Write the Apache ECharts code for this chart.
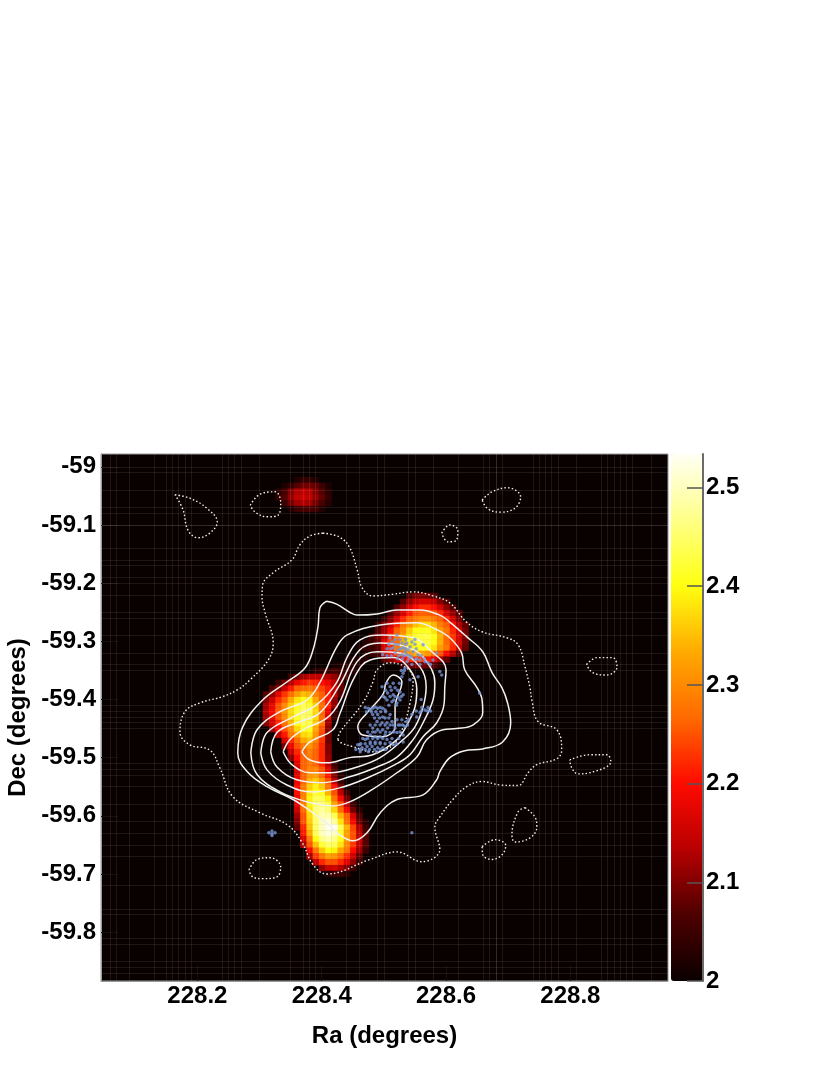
<!DOCTYPE html>
<html>
<head>
<meta charset="utf-8">
<title>Ra / Dec map</title>
<script src="https://cdn.jsdelivr.net/npm/echarts@6/dist/echarts.min.js"></script>
<style>
html, body { margin: 0; padding: 0; background: #fff; }
#container_map { width: 830px; height: 1075px; }
</style>
</head>
<body>
<div id="container_map"></div>
<script>
// Axis ticks
var raTicks = [228.2, 228.4, 228.6, 228.8];
var decTicks = [-59, -59.1, -59.2, -59.3, -59.4, -59.5, -59.6, -59.7, -59.8];
var barTicks = [2, 2.1, 2.2, 2.3, 2.4, 2.5];

// Excess map, read row by row: [dec, first ra, [value above 2, in hundredths, ...]]
var heatRows = [
    [-59.02, 228.36, [2, 4, 4, 2]],
    [-59.03, 228.34, [2, 4, 7, 9, 9, 8, 5, 2]],
    [-59.04, 228.33, [3, 6, 10, 13, 14, 13, 10, 7, 3]],
    [-59.05, 228.33, [4, 7, 11, 14, 15, 14, 11, 8, 4]],
    [-59.06, 228.34, [5, 9, 12, 13, 12, 9, 6, 3]],
    [-59.07, 228.35, [2, 5, 6, 6, 5, 2]],
    [-59.22, 228.54, [7, 9, 10, 9, 7]],
    [-59.23, 228.53, [7, 11, 14, 16, 16, 14, 10, 7]],
    [-59.24, 228.52, [7, 11, 16, 20, 22, 22, 20, 16, 11, 7]],
    [-59.25, 228.51, [7, 11, 16, 21, 25, 26, 26, 25, 22, 16, 11, 7]],
    [-59.26, 228.50, [5, 10, 16, 22, 26, 28, 30, 30, 28, 26, 22, 15, 9]],
    [-59.27, 228.49, [5, 10, 15, 22, 28, 31, 35, 37, 37, 34, 29, 26, 20, 13, 8]],
    [-59.28, 228.49, [7, 12, 19, 26, 30, 36, 40, 41, 41, 38, 32, 28, 22, 15, 9]],
    [-59.29, 228.48, [5, 9, 14, 22, 28, 33, 38, 42, 43, 43, 40, 34, 27, 23, 16, 10]],
    [-59.30, 228.47, [3, 5, 8, 17, 24, 27, 34, 39, 42, 43, 43, 40, 34, 27, 23, 16, 9]],
    [-59.31, 228.46, [2, 4, 5, 7, 16, 22, 28, 32, 37, 40, 41, 41, 38, 32, 28, 22, 14, 8]],
    [-59.32, 228.47, [3, 4, 6, 14, 19, 24, 27, 31, 33, 33, 31, 27, 25, 19, 13, 7]],
    [-59.33, 228.44, [1, 2, 3, 3, 0, 0, 7, 10, 14, 19, 22, 23, 23, 21, 17, 12, 8]],
    [-59.34, 228.42, [1, 2, 3, 3, 2, 0, 0, 0, 0, 0, 0, 5, 8, 9, 9, 8, 7, 3]],
    [-59.35, 228.39, [3, 4, 5, 6, 5, 4, 3]],
    [-59.36, 228.35, [5, 9, 12, 14, 14, 14, 13, 11, 8, 5]],
    [-59.37, 228.33, [5, 9, 13, 18, 21, 23, 22, 20, 18, 14, 8]],
    [-59.38, 228.32, [7, 10, 15, 21, 26, 27, 28, 26, 24, 21, 15, 8]],
    [-59.39, 228.31, [7, 11, 17, 23, 27, 32, 35, 34, 29, 26, 21, 14, 7]],
    [-59.40, 228.31, [10, 15, 22, 26, 33, 38, 40, 39, 33, 26, 21, 11]],
    [-59.41, 228.31, [12, 18, 25, 30, 36, 41, 44, 42, 36, 27, 21, 11]],
    [-59.42, 228.31, [13, 19, 26, 31, 37, 42, 45, 44, 37, 27, 18, 5]],
    [-59.43, 228.31, [12, 18, 25, 30, 37, 42, 45, 44, 37, 27, 16, 4]],
    [-59.44, 228.31, [10, 16, 22, 27, 34, 41, 44, 43, 36, 28, 12]],
    [-59.45, 228.32, [12, 19, 25, 30, 37, 41, 41, 33, 25, 10]],
    [-59.46, 228.33, [14, 21, 28, 32, 37, 38, 31, 24, 9]],
    [-59.47, 228.34, [16, 22, 27, 33, 35, 29, 23, 9]],
    [-59.48, 228.34, [9, 18, 25, 28, 31, 27, 22, 10]],
    [-59.49, 228.35, [14, 22, 26, 29, 26, 22, 10]],
    [-59.50, 228.35, [10, 20, 26, 28, 26, 22, 11]],
    [-59.51, 228.36, [17, 26, 28, 26, 22, 13, 5]],
    [-59.52, 228.36, [16, 26, 29, 29, 25, 17, 7]],
    [-59.53, 228.36, [17, 26, 31, 32, 27, 21, 10, 3]],
    [-59.54, 228.36, [18, 26, 34, 36, 32, 25, 14, 5]],
    [-59.55, 228.36, [19, 28, 36, 39, 36, 28, 20, 9]],
    [-59.56, 228.36, [20, 29, 38, 42, 41, 34, 25, 14, 5]],
    [-59.57, 228.36, [18, 29, 39, 44, 44, 39, 28, 20, 9]],
    [-59.58, 228.36, [17, 28, 39, 45, 46, 43, 33, 25, 14, 5]],
    [-59.59, 228.36, [15, 27, 38, 46, 48, 46, 37, 27, 19, 9, 3]],
    [-59.60, 228.36, [12, 25, 37, 45, 49, 49, 44, 34, 26, 16, 7]],
    [-59.61, 228.36, [10, 25, 36, 45, 50, 52, 48, 38, 27, 19, 9, 3]],
    [-59.62, 228.36, [8, 22, 35, 45, 50, 53, 53, 44, 34, 24, 13, 5]],
    [-59.63, 228.37, [21, 33, 44, 50, 52, 50, 42, 32, 25, 14, 7]],
    [-59.64, 228.37, [16, 28, 40, 47, 49, 47, 41, 32, 25, 15, 7]],
    [-59.65, 228.37, [12, 25, 35, 42, 45, 44, 38, 30, 23, 14, 7]],
    [-59.66, 228.38, [19, 28, 36, 40, 39, 33, 28, 20, 12, 5]],
    [-59.67, 228.38, [12, 23, 28, 32, 31, 27, 22, 15, 8]],
    [-59.68, 228.39, [14, 22, 25, 25, 22, 17, 11, 5]],
    [-59.69, 228.40, [11, 15, 16, 13, 10, 5]],
    [-59.70, 228.41, [3, 5, 5, 3]]
];

// Contours, [ra, dec]
var dottedOuter = [[228.402,-59.114],[228.429,-59.121],[228.445,-59.139],[228.457,-59.177],[228.465,-59.208],[228.482,-59.222],[228.515,-59.219],[228.547,-59.215],[228.579,-59.222],[228.606,-59.234],[228.633,-59.267],[228.659,-59.284],[228.698,-59.294],[228.716,-59.306],[228.727,-59.344],[228.735,-59.380],[228.738,-59.401],[228.748,-59.438],[228.778,-59.452],[228.786,-59.487],[228.778,-59.502],[228.746,-59.512],[228.732,-59.526],[228.716,-59.548],[228.687,-59.547],[228.658,-59.541],[228.633,-59.550],[228.611,-59.572],[228.590,-59.602],[228.582,-59.619],[228.590,-59.658],[228.561,-59.679],[228.521,-59.662],[228.478,-59.675],[228.408,-59.700],[228.386,-59.684],[228.368,-59.645],[228.344,-59.615],[228.301,-59.595],[228.257,-59.567],[228.236,-59.517],[228.220,-59.487],[228.188,-59.478],[228.172,-59.456],[228.180,-59.421],[228.204,-59.406],[228.241,-59.395],[228.265,-59.383],[228.285,-59.366],[228.314,-59.332],[228.322,-59.303],[228.309,-59.251],[228.304,-59.224],[228.305,-59.203],[228.322,-59.182],[228.352,-59.160],[228.365,-59.134],[228.381,-59.119]];
var dottedInner = [[228.426,-59.469],[228.429,-59.457],[228.466,-59.406],[228.482,-59.371],[228.489,-59.349],[228.510,-59.337],[228.537,-59.346],[228.547,-59.366],[228.542,-59.406],[228.531,-59.447],[228.515,-59.478],[228.482,-59.490],[228.450,-59.481],[228.432,-59.475]];
var dottedA = [[228.164,-59.048],[228.188,-59.054],[228.215,-59.071],[228.232,-59.095],[228.220,-59.114],[228.201,-59.122],[228.185,-59.109],[228.177,-59.074]];
var dottedB = [[228.285,-59.066],[228.301,-59.047],[228.325,-59.043],[228.334,-59.062],[228.330,-59.083],[228.312,-59.086],[228.293,-59.078]];
var dottedC = [[228.593,-59.114],[228.606,-59.100],[228.619,-59.109],[228.617,-59.126],[228.603,-59.129]];
var dottedD = [[228.658,-59.057],[228.674,-59.043],[228.699,-59.036],[228.720,-59.052],[228.711,-59.071],[228.687,-59.078],[228.667,-59.072]];
var dottedE = [[228.826,-59.340],[228.843,-59.328],[228.868,-59.328],[228.875,-59.344],[228.859,-59.358],[228.836,-59.354]];
var dottedF = [[228.799,-59.504],[228.831,-59.495],[228.859,-59.495],[228.865,-59.507],[228.831,-59.526],[228.812,-59.528],[228.802,-59.517]];
var dottedG = [[228.727,-59.586],[228.743,-59.602],[228.746,-59.619],[228.735,-59.638],[228.711,-59.645],[228.706,-59.633],[228.716,-59.593]];
var dottedH = [[228.658,-59.653],[228.679,-59.641],[228.696,-59.651],[228.690,-59.667],[228.674,-59.675],[228.659,-59.667]];
var dottedI = [[228.283,-59.693],[228.296,-59.675],[228.317,-59.672],[228.334,-59.688],[228.328,-59.705],[228.305,-59.708],[228.289,-59.705]];

var solid1 = [[228.408,-59.231],[228.424,-59.236],[228.445,-59.250],[228.457,-59.255],[228.489,-59.253],[228.521,-59.246],[228.558,-59.246],[228.590,-59.255],[228.606,-59.267],[228.633,-59.292],[228.659,-59.318],[228.674,-59.354],[228.690,-59.380],[228.699,-59.406],[228.704,-59.440],[228.691,-59.473],[228.659,-59.485],[228.630,-59.488],[228.606,-59.500],[228.590,-59.524],[228.585,-59.538],[228.563,-59.564],[228.521,-59.572],[228.494,-59.595],[228.473,-59.629],[228.450,-59.643],[228.429,-59.633],[228.413,-59.617],[228.386,-59.595],[228.354,-59.572],[228.312,-59.550],[228.280,-59.524],[228.265,-59.492],[228.273,-59.447],[228.305,-59.401],[228.344,-59.370],[228.373,-59.346],[228.386,-59.315],[228.394,-59.275],[228.397,-59.243]];
var solid2 = [[228.286,-59.492],[228.296,-59.529],[228.333,-59.559],[228.376,-59.576],[228.418,-59.583],[228.445,-59.576],[228.481,-59.555],[228.521,-59.526],[228.553,-59.499],[228.569,-59.469],[228.595,-59.452],[228.617,-59.450],[228.643,-59.444],[228.659,-59.423],[228.658,-59.401],[228.650,-59.380],[228.630,-59.349],[228.625,-59.320],[228.606,-59.294],[228.585,-59.280],[228.553,-59.268],[228.494,-59.272],[228.441,-59.289],[228.424,-59.310],[228.397,-59.371],[228.376,-59.401],[228.333,-59.421],[228.296,-59.452]];
var solid3 = [[228.302,-59.492],[228.312,-59.521],[228.344,-59.547],[228.386,-59.559],[228.429,-59.552],[228.473,-59.535],[228.518,-59.512],[228.542,-59.495],[228.563,-59.464],[228.585,-59.440],[228.597,-59.406],[228.598,-59.378],[228.600,-59.349],[228.574,-59.315],[228.547,-59.294],[228.498,-59.289],[228.461,-59.298],[228.441,-59.327],[228.424,-59.371],[228.392,-59.409],[228.354,-59.430],[228.312,-59.457]];
var solid4 = [[228.318,-59.490],[228.328,-59.516],[228.360,-59.538],[228.402,-59.543],[228.445,-59.533],[228.489,-59.516],[228.521,-59.499],[228.547,-59.469],[228.563,-59.440],[228.579,-59.401],[228.582,-59.371],[228.563,-59.327],[228.537,-59.310],[228.494,-59.303],[228.461,-59.315],[228.429,-59.375],[228.397,-59.423],[228.360,-59.440],[228.328,-59.457]];
var solid5 = [[228.338,-59.490],[228.352,-59.512],[228.381,-59.526],[228.413,-59.526],[228.457,-59.516],[228.494,-59.500],[228.531,-59.469],[228.550,-59.447],[228.563,-59.413],[228.568,-59.378],[228.558,-59.344],[228.526,-59.320],[228.489,-59.318],[228.457,-59.335],[228.429,-59.404],[228.408,-59.432],[228.370,-59.452],[228.349,-59.469]];
var solid6 = [[228.368,-59.490],[228.381,-59.504],[228.408,-59.509],[228.445,-59.500],[228.482,-59.495],[228.521,-59.469],[228.539,-59.440],[228.550,-59.413],[228.553,-59.383],[228.542,-59.349],[228.515,-59.328],[228.478,-59.332],[228.453,-59.361],[228.429,-59.425],[228.418,-59.452],[228.381,-59.473]];
var solid7 = [[228.502,-59.375],[228.515,-59.358],[228.529,-59.370],[228.518,-59.413],[228.518,-59.447],[228.498,-59.464],[228.466,-59.461],[228.458,-59.447],[228.473,-59.423],[228.498,-59.392]];

// Blue points, [ra, dec]
var bluePoints = [
    [228.521,-59.289],[228.510,-59.294],[228.529,-59.303],[228.537,-59.303],[228.545,-59.301],[228.515,-59.311],[228.523,-59.315],[228.531,-59.311],
    [228.539,-59.315],[228.547,-59.318],[228.555,-59.323],[228.518,-59.320],[228.529,-59.323],[228.537,-59.323],[228.545,-59.327],[228.498,-59.323],
    [228.558,-59.332],[228.566,-59.335],[228.571,-59.337],[228.585,-59.320],[228.563,-59.306],[228.537,-59.335],[228.534,-59.346],[228.529,-59.361],
    [228.555,-59.361],[228.590,-59.352],[228.593,-59.358],[228.542,-59.366],[228.513,-59.301],[228.523,-59.306],[228.534,-59.318],[228.542,-59.310],
    [228.550,-59.332],[228.579,-59.332],
    [228.518,-59.297],[228.526,-59.297],[228.535,-59.297],[228.550,-59.297],[228.508,-59.305],[228.518,-59.305],[228.535,-59.305],[228.550,-59.305],
    [228.505,-59.313],[228.511,-59.313],[228.527,-59.313],[228.535,-59.313],[228.552,-59.313],[228.505,-59.325],[228.512,-59.325],[228.524,-59.325],
    [228.533,-59.325],[228.541,-59.325],[228.560,-59.325],[228.522,-59.330],[228.530,-59.330],[228.540,-59.330],[228.553,-59.330],[228.565,-59.330],
    [228.545,-59.340],[228.558,-59.340],[228.575,-59.340],[228.533,-59.350],[228.528,-59.350],[228.531,-59.355],
    [228.510,-59.378],[228.518,-59.380],[228.526,-59.387],[228.506,-59.389],[228.515,-59.392],[228.523,-59.397],[228.531,-59.392],[228.502,-59.397],
    [228.513,-59.404],[228.521,-59.406],[228.497,-59.378],[228.503,-59.384],[228.512,-59.384],[228.522,-59.384],[228.499,-59.395],[228.510,-59.395],
    [228.518,-59.395],[228.528,-59.395],[228.505,-59.401],[228.516,-59.401],[228.526,-59.401],[228.505,-59.372],[228.515,-59.372],[228.525,-59.372],
    [228.508,-59.410],[228.520,-59.410],
    [228.486,-59.413],[228.478,-59.418],[228.470,-59.414],[228.494,-59.414],[228.502,-59.418],[228.482,-59.426],[228.490,-59.426],[228.498,-59.430],
    [228.510,-59.426],[228.489,-59.438],[228.497,-59.440],[228.505,-59.440],[228.513,-59.438],[228.482,-59.449],[228.490,-59.452],[228.498,-59.452],
    [228.506,-59.449],[228.521,-59.435],[228.529,-59.435],[228.537,-59.438],[228.526,-59.444],[228.534,-59.447],[228.518,-59.449],[228.478,-59.461],
    [228.486,-59.464],[228.494,-59.464],[228.502,-59.461],[228.510,-59.457],[228.521,-59.457],[228.470,-59.469],[228.478,-59.473],[228.486,-59.473],
    [228.494,-59.474],[228.505,-59.469],[228.458,-59.478],[228.465,-59.483],[228.473,-59.481],[228.481,-59.481],[228.490,-59.483],[228.498,-59.483],
    [228.461,-59.478],[228.510,-59.474],[228.515,-59.478],[228.531,-59.461],[228.531,-59.473],
    [228.475,-59.415],[228.482,-59.415],[228.490,-59.415],[228.498,-59.415],[228.472,-59.421],[228.480,-59.421],[228.487,-59.421],[228.495,-59.421],[228.503,-59.421],
    [228.485,-59.432],[228.493,-59.432],[228.502,-59.432],[228.508,-59.432],[228.478,-59.444],[228.486,-59.444],[228.494,-59.444],[228.502,-59.444],[228.510,-59.444],
    [228.515,-59.444],[228.523,-59.444],[228.530,-59.444],[228.538,-59.444],[228.474,-59.456],[228.482,-59.456],[228.486,-59.456],[228.494,-59.456],[228.503,-59.456],
    [228.516,-59.456],[228.526,-59.456],[228.466,-59.467],[228.474,-59.467],[228.482,-59.467],[228.490,-59.467],[228.498,-59.467],[228.513,-59.467],[228.524,-59.467],
    [228.463,-59.476],[228.470,-59.476],[228.478,-59.476],[228.486,-59.476],[228.494,-59.476],[228.502,-59.476],[228.520,-59.476],[228.455,-59.486],[228.462,-59.486],
    [228.470,-59.486],[228.477,-59.486],[228.485,-59.486],[228.494,-59.486],[228.503,-59.486],[228.462,-59.490],[228.475,-59.490],[228.488,-59.490],
    [228.558,-59.423],[228.566,-59.418],[228.571,-59.414],[228.553,-59.430],[228.545,-59.426],[228.561,-59.414],[228.552,-59.420],[228.560,-59.420],[228.570,-59.420],
    [228.575,-59.420],[228.540,-59.434],[228.560,-59.400],
    [228.320,-59.631],[228.315,-59.629],[228.325,-59.629],[228.320,-59.626],[228.320,-59.634],[228.654,-59.389],[228.545,-59.629]
];

// Faint lines in the map background
var faintRa = [228.055,228.068,228.087,228.135,228.145,228.161,228.167,228.177,228.193,228.240,228.252,228.260,228.272,228.304,228.352,228.365,228.381,228.391,228.445,228.461,228.489,228.505,228.542,228.552,228.582,228.622,228.662,228.669,228.675,228.683,228.695,228.743,228.754,228.762,228.770,228.778,228.807,228.852,228.863,228.873,228.880,228.888,228.899,228.928];
var faintDec = [-59.004,-59.011,-59.040,-59.071,-59.081,-59.097,-59.103,-59.138,-59.164,-59.174,-59.189,-59.203,-59.220,-59.251,-59.260,-59.292,-59.318,-59.344,-59.354,-59.406,-59.418,-59.426,-59.435,-59.449,-59.507,-59.521,-59.529,-59.555,-59.576,-59.612,-59.629,-59.653,-59.675,-59.718,-59.758,-59.773,-59.809,-59.818,-59.851,-59.859,-59.868];

var dottedLines = [dottedOuter, dottedInner, dottedA, dottedB, dottedC, dottedD, dottedE, dottedF, dottedG, dottedH, dottedI];
var solidLines = [solid1, solid2, solid3, solid4, solid5, solid6, solid7];

// Cell categories for the heatmap, 0.01 degree wide
var raCells = [], decCells = [];
for (var i = 0; i < 91; i++) {
    raCells.push((228.05 + i * 0.01).toFixed(2));
    decCells.push((-59.88 + i * 0.01).toFixed(2));
}

var heatData = [];
heatRows.forEach(function (row) {
    var y = decCells.indexOf(row[0].toFixed(2));
    var x0 = raCells.indexOf(row[1].toFixed(2));
    row[2].forEach(function (v, k) {
        if (v > 0) heatData.push([x0 + k, y, 2 + v / 100]);
    });
});

function closeLoop(pts) {
    return pts.concat([pts[0]]);
}

var fontFamily = '"Liberation Sans", Arial, sans-serif';
var labelStyle = { fontFamily: fontFamily, fontWeight: 'bold', fontSize: 24, color: '#000' };

var series = [
    {
        // background lines, under everything else
        type: 'line',
        xAxisIndex: 0,
        yAxisIndex: 0,
        data: [],
        z: 1,
        silent: true,
        markLine: {
            silent: true,
            animation: false,
            symbol: 'none',
            label: { show: false },
            lineStyle: { color: 'rgba(255,230,215,0.09)', width: 1, type: 'solid' },
            data: faintRa.map(function (v) { return { xAxis: v }; })
                .concat(faintDec.map(function (v) { return { yAxis: v }; }))
        }
    },
    {
        type: 'heatmap',
        xAxisIndex: 1,
        yAxisIndex: 1,
        data: heatData,
        z: 2,
        silent: true,
        progressive: 0
    }
];

dottedLines.forEach(function (pts) {
    series.push({
        type: 'line',
        xAxisIndex: 0,
        yAxisIndex: 0,
        data: closeLoop(pts),
        smooth: 0.4,
        showSymbol: false,
        silent: true,
        z: 3,
        lineStyle: { color: '#f0f0f0', width: 1.4, type: [1.5, 2.2] }
    });
});

solidLines.forEach(function (pts) {
    series.push({
        type: 'line',
        xAxisIndex: 0,
        yAxisIndex: 0,
        data: closeLoop(pts),
        smooth: 0.4,
        showSymbol: false,
        silent: true,
        z: 3,
        lineStyle: { color: '#f2f2f2', width: 1.5 }
    });
});

series.push({
    type: 'scatter',
    xAxisIndex: 0,
    yAxisIndex: 0,
    data: bluePoints,
    symbolSize: 3.5,
    silent: true,
    z: 4,
    itemStyle: { color: '#7494d4' }
});

var map_chart = echarts.init(document.getElementById('container_map'));

var option_map = {
    animation: false,
    backgroundColor: '#fff',
    grid: [
        {
            left: 101, top: 454, width: 567, height: 527,
            show: true,
            backgroundColor: '#090000',
            borderColor: '#9a9a9a',
            borderWidth: 1,
            outerBoundsMode: 'none'
        },
        {
            left: 671, top: 454, width: 32, height: 527,
            outerBoundsMode: 'none'
        }
    ],
    xAxis: [
        {
            type: 'value', gridIndex: 0, min: 228.045, max: 228.957,
            name: 'Ra (degrees)', nameLocation: 'middle', nameGap: 43,
            nameTextStyle: labelStyle,
            axisLine: { lineStyle: { color: '#9a9a9a' } },
            axisTick: { inside: true, length: 15, lineStyle: { color: '#151010' }, customValues: raTicks },
            axisLabel: Object.assign({ margin: 3, customValues: raTicks, formatter: function (v) { return v.toFixed(1); } }, labelStyle),
            splitLine: { show: false }
        },
        { type: 'category', gridIndex: 0, data: raCells, show: false },
        { type: 'value', gridIndex: 1, min: 0, max: 1, show: false }
    ],
    yAxis: [
        {
            type: 'value', gridIndex: 0, min: -59.884, max: -58.978,
            name: 'Dec (degrees)', nameLocation: 'middle', nameGap: 64,
            nameTextStyle: labelStyle,
            axisLine: { lineStyle: { color: '#9a9a9a' } },
            axisTick: { inside: true, length: 17, lineStyle: { color: '#151010' }, customValues: decTicks },
            axisLabel: Object.assign({ margin: 5, customValues: decTicks, formatter: function (v) { return String(v); } }, labelStyle),
            splitLine: { show: false }
        },
        { type: 'category', gridIndex: 0, data: decCells, show: false },
        {
            type: 'value', gridIndex: 1, position: 'right', min: 2, max: 2.534, z: 10,
            axisLine: { show: true, onZero: false, lineStyle: { color: '#6b6b6b', width: 2 } },
            axisTick: { show: true, inside: true, length: 16, lineStyle: { color: '#555', width: 1.5 }, customValues: barTicks },
            axisLabel: Object.assign({ margin: 3, customValues: barTicks, formatter: function (v) { return String(v); } }, labelStyle),
            splitLine: { show: false }
        }
    ],
    visualMap: {
        type: 'continuous',
        seriesIndex: 1,
        min: 2,
        max: 2.534,
        calculable: false,
        hoverLink: false,
        left: 671,
        top: 454,
        padding: 0,
        itemWidth: 32,
        itemHeight: 527,
        text: null,
        inRange: {
            color: ['#0a0000', '#4d0000', '#b80000', '#ff0a00', '#ff6a00', '#ffaa00', '#ffff10', '#ffff88', '#fffff5']
        }
    },
    series: series
};

map_chart.setOption(option_map);
</script>
</body>
</html>
